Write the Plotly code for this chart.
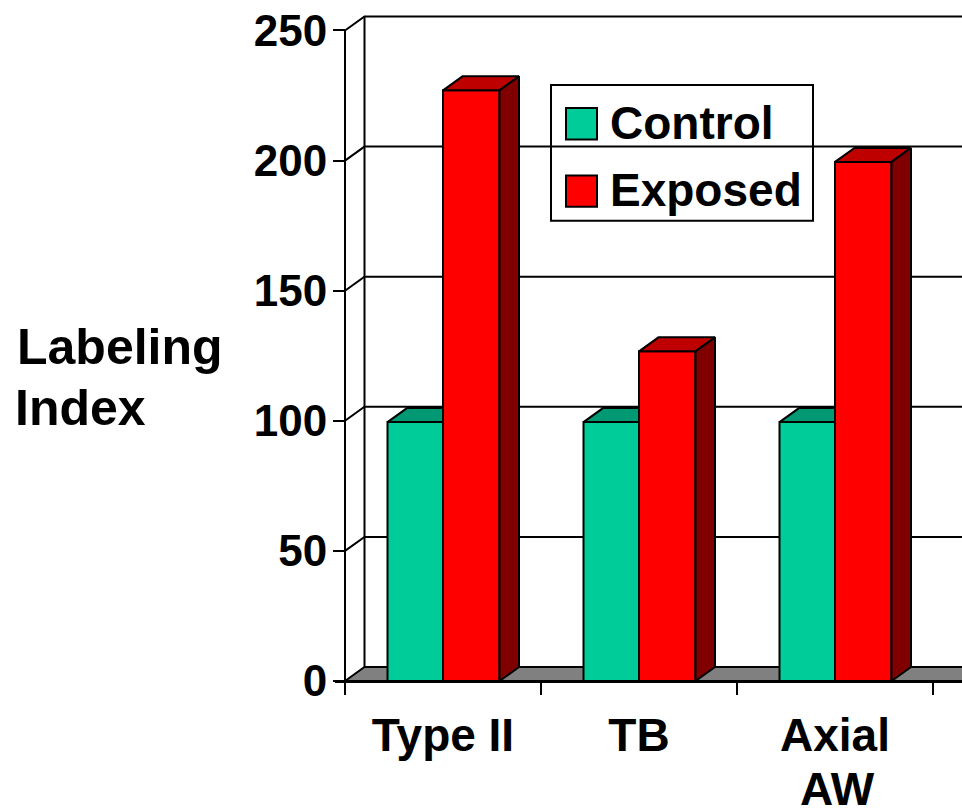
import plotly.graph_objects as go

categories = ["Type II", "TB", "Axial AW"]
tick_first_line = ["Type II", "TB", "Axial"]
control = [99.5, 99.5, 99.5]
exposed = [227, 126.7, 199.5]
y_ticks = [0, 50, 100, 150, 200, 250]
x_boundaries = [-0.5, 0.5, 1.5, 2.5]
positions = list(range(len(categories)))

W, H = 962, 808
ML, MT, MB = 335, 10, 126.5
PW, PH = W - ML, H - MT - MB
PX_X = 196.0          # pixels per category
PX_Y = 2.604          # pixels per value unit
XMIN = -0.5 - 10 / PX_X
XMAX = XMIN + PW / PX_X
YMAX = PH / PX_Y
DX = 19.5 / PX_X      # depth
DY = 14 / PX_Y
BAR_L = 55.5 / PX_X
BAR_R = 56.5 / PX_X

GREEN, GREEN_TOP = "#00CC99", "#009973"
RED, RED_TOP, RED_SIDE = "#FF0000", "#BF0000", "#800000"
GREY = "#808080"
FONT = "Liberation Sans, Arial, sans-serif"
LW = 2

def poly(xs, ys, color):
    return go.Scatter(x=xs + xs[:1], y=ys + ys[:1], mode="lines", fill="toself",
                      fillcolor=color, line=dict(color="black", width=LW),
                      hoverinfo="skip", showlegend=False)

fig = go.Figure()
fig.add_bar(x=positions, y=control, width=BAR_L, offset=-BAR_L, name="Control",
            marker=dict(color=GREEN, line=dict(color="black", width=LW)))
fig.add_bar(x=positions, y=exposed, width=BAR_R, offset=0, name="Exposed",
            marker=dict(color=RED, line=dict(color="black", width=LW)))

for p, c, e in zip(positions, control, exposed):
    # control top, cut at the face of the neighbouring exposed bar
    fig.add_trace(poly([p - BAR_L, p, p, p - BAR_L + DX],
                       [c, c, c + DY, c + DY], GREEN_TOP))
    fig.add_trace(poly([p, p + BAR_R, p + BAR_R + DX, p + DX],
                       [e, e, e + DY, e + DY], RED_TOP))
    fig.add_trace(poly([p + BAR_R, p + BAR_R + DX, p + BAR_R + DX, p + BAR_R],
                       [0, DY, e + DY, e], RED_SIDE))

shapes = []
x0 = x_boundaries[0]
# floor
shapes.append(dict(type="path", layer="below", xref="x", yref="y",
                   path=f"M{x0},0 L{x0+DX},{DY} L{XMAX+1},{DY} L{XMAX+1},0 Z",
                   fillcolor=GREY, line=dict(color="black", width=LW)))
# grid on side wall and back wall
for v in y_ticks[1:]:
    shapes.append(dict(type="path", layer="below", xref="x", yref="y",
                       path=f"M{x0},{v} L{x0+DX},{v+DY} L{XMAX+1},{v+DY}",
                       line=dict(color="black", width=LW)))
shapes.append(dict(type="line", layer="below", xref="x", yref="y",
                   x0=x0 + DX, x1=x0 + DX, y0=DY, y1=y_ticks[-1] + DY,
                   line=dict(color="black", width=LW)))
# front vertical axis
shapes.append(dict(type="line", layer="below", xref="x", yref="y",
                   x0=x0, x1=x0, y0=0, y1=y_ticks[-1],
                   line=dict(color="black", width=LW)))

def fx(px): return (px - ML) / PW
def fy(py): return 1 - (py - MT) / PH

# legend
shapes.append(dict(type="rect", xref="paper", yref="paper", layer="above",
                   x0=fx(551), x1=fx(813), y0=fy(85), y1=fy(221),
                   line=dict(color="black", width=LW)))
for (top, bot, col) in [(108, 139.5, GREEN), (175.5, 207, RED)]:
    shapes.append(dict(type="rect", xref="paper", yref="paper", layer="above",
                       x0=fx(566), x1=fx(597), y0=fy(top), y1=fy(bot),
                       fillcolor=col, line=dict(color="black", width=LW)))

annotations = []
def text(s, px, py, size, anchor="left"):
    annotations.append(dict(text=f"<b>{s}</b>", xref="paper", yref="paper",
                            x=fx(px), y=fy(py), xanchor=anchor, yanchor="middle",
                            showarrow=False, align="left",
                            font=dict(family=FONT, size=size, color="black")))
text("Control", 608, 123, 46)
text("Exposed", 608, 190, 46)
text("Labeling", 15, 347, 50)
text("Index", 13, 408, 50)
text("AW", 837.5, 790, 46, "center")

fig.update_layout(
    width=W, height=H, autosize=False, plot_bgcolor="white", paper_bgcolor="white",
    margin=dict(l=ML, r=0, t=MT, b=MB, pad=0, autoexpand=False), showlegend=False,
    barmode="overlay",
    font=dict(family=FONT, color="black"),
    shapes=shapes, annotations=annotations,
    xaxis=dict(range=[XMIN, XMAX], showgrid=False, zeroline=False, showline=True,
               linecolor="black", linewidth=LW, ticks="", automargin=False,
               tickmode="array", tickvals=positions,
               ticktext=[f"<b>{c}</b>" for c in tick_first_line],
               tickangle=0, ticklabelstandoff=13,
               tickfont=dict(family=FONT, size=46, color="black"),
               minor=dict(tickmode="array", tickvals=x_boundaries, ticks="outside",
                          ticklen=12, tickwidth=LW, tickcolor="black", showgrid=False)),
    yaxis=dict(range=[0, YMAX], showgrid=False, zeroline=False, showline=False,
               anchor="free", position=10 / PW, automargin=False,
               ticks="outside", ticklen=12, tickwidth=LW, tickcolor="black",
               tickmode="array", tickvals=y_ticks,
               ticktext=[f"<b>{v}</b>" for v in y_ticks],
               ticklabelstandoff=-3,
               tickfont=dict(family=FONT, size=44, color="black")),
)
fig.write_html("out.html", post_script="document.body.style.margin='0';",
               config=dict(displayModeBar=False))
